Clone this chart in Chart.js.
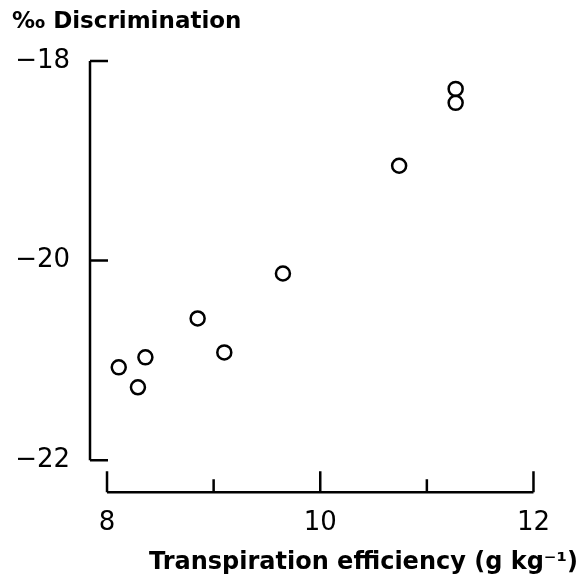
<!DOCTYPE html>
<html>
<head>
<meta charset="utf-8">
<script src="https://cdn.jsdelivr.net/npm/chart.js"></script>
<style>
  body { margin: 0; background: #fff; }
  canvas { display: block; }
</style>
</head>
<body>
<canvas id="chart" width="582" height="583"></canvas>
<script>
// values
const efficiency = [8.11, 8.29, 8.36, 8.85, 9.10, 9.65, 10.74, 11.27, 11.27];
const discrimination = [-21.07, -21.27, -20.97, -20.58, -20.92, -20.13, -19.05, -18.28, -18.42];
const xTicks = [8, 10, 12];
const xMinorTicks = [9, 11];
const yTicks = [-22, -20, -18];
const yTitle = "‰ Discrimination";
const xTitle = "Transpiration efficiency (g kg⁻¹)";

// the axes in the figure are detached and have inward ticks, so draw them here
const axesLines = {
  id: "axesLines",
  afterDraw(chart) {
    const ctx = chart.ctx;
    const x = chart.scales.x;
    const y = chart.scales.y;
    const area = chart.chartArea;
    ctx.save();
    ctx.strokeStyle = "#000";
    ctx.lineWidth = 2.5;
    ctx.beginPath();
    ctx.moveTo(area.left, y.getPixelForValue(yTicks[yTicks.length - 1]));
    ctx.lineTo(area.left, y.getPixelForValue(yTicks[0]));
    yTicks.forEach((v) => {
      const py = y.getPixelForValue(v);
      ctx.moveTo(area.left, py);
      ctx.lineTo(area.left + 18, py);
    });
    ctx.moveTo(x.getPixelForValue(xTicks[0]), area.bottom);
    ctx.lineTo(x.getPixelForValue(xTicks[xTicks.length - 1]), area.bottom);
    xTicks.forEach((v) => {
      const px = x.getPixelForValue(v);
      ctx.moveTo(px, area.bottom);
      ctx.lineTo(px, area.bottom - 21);
    });
    xMinorTicks.forEach((v) => {
      const px = x.getPixelForValue(v);
      ctx.moveTo(px, area.bottom);
      ctx.lineTo(px, area.bottom - 13);
    });
    ctx.stroke();
    ctx.restore();
  },
};

const tickFont = { family: "DejaVu Sans", size: 26 };
const titleFont = { family: "DejaVu Sans", size: 24, weight: "bold" };

const chart = new Chart(document.getElementById("chart"), {
  type: "scatter",
  data: {
    datasets: [
      {
        data: efficiency.map((v, i) => ({ x: v, y: discrimination[i] })),
        pointRadius: 7,
        pointBorderWidth: 2.5,
        pointBorderColor: "#000",
        pointBackgroundColor: "rgba(0,0,0,0)",
        clip: false,
      },
    ],
  },
  options: {
    responsive: false,
    animation: false,
    layout: { padding: { top: 0, left: 12, right: 4, bottom: 6 } },
    plugins: {
      legend: { display: false },
      tooltip: { enabled: false },
      title: {
        display: true,
        text: yTitle,
        align: "start",
        color: "#000",
        font: { family: "DejaVu Sans", size: 23, weight: "bold" },
        padding: { top: 8, bottom: 4 },
      },
      subtitle: {
        display: true,
        text: xTitle,
        position: "bottom",
        align: "end",
        color: "#000",
        font: titleFont,
        padding: { top: 4, bottom: 0 },
      },
    },
    scales: {
      x: {
        type: "linear",
        min: 7.8404,
        max: 12.366,
        grid: { display: false, drawTicks: false },
        border: { display: false },
        afterBuildTicks: (axis) => {
          axis.ticks = xTicks.map((v) => ({ value: v }));
        },
        afterFit: (axis) => {
          axis.height = 52;
        },
        ticks: { color: "#000", font: tickFont, padding: 15 },
      },
      y: {
        min: -22.321,
        max: -17.786,
        grid: { display: false, drawTicks: false },
        border: { display: false },
        afterBuildTicks: (axis) => {
          axis.ticks = yTicks.map((v) => ({ value: v }));
        },
        afterFit: (axis) => {
          axis.width = 78;
        },
        ticks: {
          color: "#000",
          font: tickFont,
          padding: 20,
          callback: (v) => String(v).replace("-", "−"),
        },
      },
    },
  },
  plugins: [axesLines],
});
</script>
</body>
</html>
